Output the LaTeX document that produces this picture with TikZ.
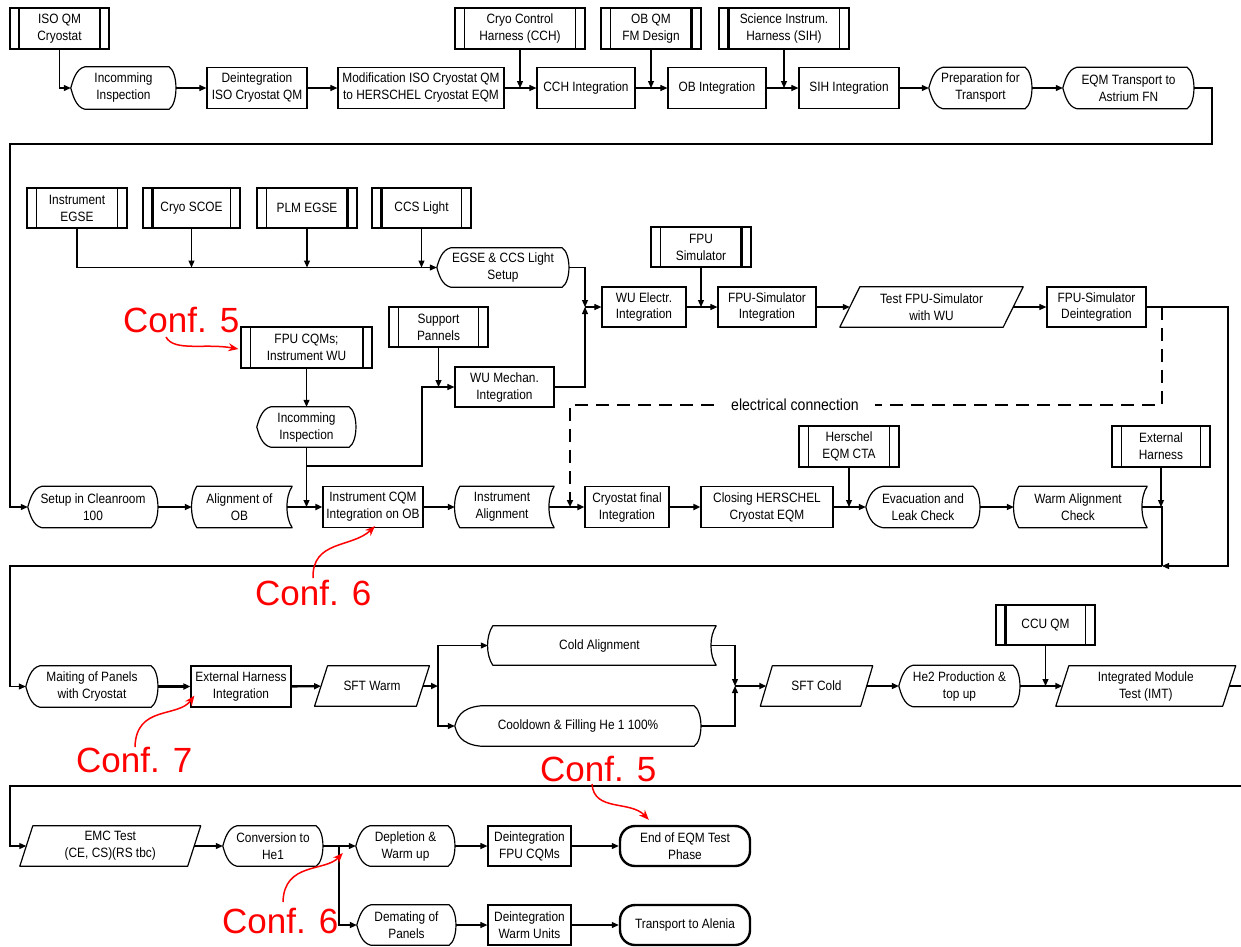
\documentclass[tikz,border=0pt]{standalone}
\usepackage{fontspec}
\setmainfont{Liberation Sans}
\newfontfamily\bxfont{Liberation Sans}[FakeStretch=0.88]
\usetikzlibrary{arrows.meta,calc}

\newcommand\dispshape[2][14]{%
  \draw[shapeline] ($(#2.north west)+(#1,0)$) -- ($(#2.north east)+(-7,0)$)
    .. controls ($(#2.north east)+(2,6)$) and ($(#2.south east)+(2,-6)$) .. ($(#2.south east)+(-7,0)$)
    -- ($(#2.south west)+(#1,0)$)
    .. controls ($(#2.south west)+(5,-2)$) and ($(#2.west)+(2,7)$) .. (#2.west)
    .. controls ($(#2.west)+(2,-7)$) and ($(#2.north west)+(5,2)$) .. cycle;}
\newcommand\storedshape[1]{%
  \draw[shapeline] ($(#1.north west)+(5,0)$) -- ($(#1.north east)+(5,0)$)
    .. controls ($(#1.north east)+(-2,10)$) and ($(#1.south east)+(-2,-10)$) .. ($(#1.south east)+(5,0)$)
    -- ($(#1.south west)+(5,0)$)
    .. controls ($(#1.south west)+(-2,-10)$) and ($(#1.north west)+(-2,10)$) .. cycle;}
\newcommand\parashape[2]{%
  \draw[shapeline] ($(#1.north west)+(#2,0)$) -- ($(#1.north east)+(#2,0)$)
    -- ($(#1.south east)+(-#2,0)$) -- ($(#1.south west)+(-#2,0)$) -- cycle;}
\newcommand\extbars[3]{%
  \draw[line width=#2] ($(#1.north west)+(10,0)$) -- ($(#1.south west)+(10,0)$);
  \draw[line width=#3] ($(#1.north east)+(-10,0)$) -- ($(#1.south east)+(-10,0)$);}

\tikzset{
  every node/.style={inner sep=0pt, align=center, font=\bxfont\fontsize{13.5}{17}\selectfont},
  wh/.style 2 args={minimum width=#1, minimum height=#2},
  proc/.style={draw, line width=1.2pt, rectangle},
  ext/.style={draw, line width=1.2pt, rectangle},
  term/.style={draw, line width=2.4pt, rectangle, rounded corners=15pt},
  shapeline/.style={line width=1.2pt, line join=round},
  conn/.style={line width=1.1pt},
  thk/.style={line width=2.4pt},
  arr/.style={-{Triangle[length=7pt,width=6pt]}},
  dashline/.style={line width=2.5pt, dash pattern=on 13pt off 8pt},
  redtxt/.style={text=red, font=\normalfont\fontsize{35}{40}\selectfont},
  redarr/.style={draw=red, line width=1.5pt, -{Stealth[length=10pt,width=8pt]}},
}

\begin{document}
\begin{tikzpicture}[x=1pt,y=-1pt]
\fill[white] (0,0) rectangle (1241,946);
\useasboundingbox (0,0) rectangle (1241,946);

% ---------- Row 1
\node[ext, line width=2.5pt, wh={99}{41}] (isoqm) at (59.5,28.5) {ISO QM\\Cryostat};
\extbars{isoqm}{2.2pt}{2.2pt}
\node[wh={105}{42}] (inc1) at (123.5,88) {Incomming\\Inspection}; \dispshape{inc1}
\node[proc, wh={100}{41}] (deint1) at (257,88) {Deintegration\\ISO Cryostat QM};
\node[proc, wh={166}{41}] (modif) at (421,88) {Modification ISO Cryostat QM\\to HERSCHEL Cryostat EQM};
\node[ext, wh={130}{41}] (cch) at (520,28.5) {Cryo Control\\Harness (CCH)}; \extbars{cch}{1.2pt}{1.2pt}
\node[proc, wh={98}{41}] (cchint) at (586,88) {CCH Integration};
\node[ext, wh={100}{41}] (obqm) at (651,28.5) {OB QM\\FM Design}; \extbars{obqm}{1.2pt}{2.4pt}
\node[proc, wh={98}{41}] (obint) at (717,88) {OB Integration};
\node[ext, wh={130}{41}] (sih) at (784,28.5) {Science Instrum.\\Harness (SIH)}; \extbars{sih}{2.4pt}{1.2pt}
\node[proc, wh={100}{41}] (sihint) at (849,88) {SIH Integration};
\node[wh={103}{41}] (prep) at (980.5,88) {Preparation for\\Transport}; \dispshape{prep}
\node[wh={131}{41}] (eqmtr) at (1128.5,88) {EQM Transport to\\Astrium FN}; \dispshape{eqmtr}

% ---------- Row 2
\node[ext, wh={100}{40}] (instegse) at (77,208) {Instrument\\EGSE}; \extbars{instegse}{1.2pt}{1.2pt}
\node[ext, wh={97}{40}] (cryoscoe) at (191.5,208) {Cryo SCOE}; \extbars{cryoscoe}{2.4pt}{1.2pt}
\node[ext, wh={100}{40}] (plmegse) at (307,208) {PLM EGSE}; \extbars{plmegse}{1.2pt}{2.4pt}
\node[ext, wh={99}{40}] (ccslight) at (421.5,208) {CCS Light}; \extbars{ccslight}{2.4pt}{1.2pt}
\node[wh={132}{39}] (egse) at (503,267.5) {EGSE \& CCS Light\\Setup}; \dispshape{egse}
\node[ext, wh={100}{40}] (fpusim) at (701,247) {FPU\\Simulator}; \extbars{fpusim}{1.2pt}{2.4pt}
\node[proc, wh={84}{40}] (wuelec) at (644,307) {WU Electr.\\Integration};
\node[proc, wh={98}{40}] (fpusimint) at (767,307) {FPU-Simulator\\Integration};
\node[wh={163}{40}] (testfpu) at (931.5,307) {Test FPU-Simulator\\with WU}; \parashape{testfpu}{10}
\node[proc, wh={99}{40}] (fpudeint) at (1096.5,307) {FPU-Simulator\\Deintegration};
\node[ext, wh={99}{40}] (support) at (438.5,327) {Support\\Pannels}; \extbars{support}{1.2pt}{1.2pt}
\node[ext, wh={131}{41}] (fpucqm) at (306.5,347.5) {FPU CQMs;\\Instrument WU}; \extbars{fpucqm}{1.2pt}{2.2pt}
\node[proc, wh={99}{40}] (wumech) at (504.5,387) {WU Mechan.\\Integration};
\node[wh={99}{40}] (inc2) at (306.5,427) {Incomming\\Inspection}; \dispshape{inc2}

% ---------- Row 3
\node[wh={130}{41}] (setup) at (93,507) {Setup in Cleanroom\\100}; \dispshape{setup}
\node[wh={95}{41}] (alignob) at (239.5,507) {Alignment of\\OB}; \storedshape{alignob}
\node[proc, wh={100}{41}] (instcqm) at (373,507) {Instrument CQM\\Integration on OB};
\node[wh={94}{41}] (instalign) at (502,507) {Instrument\\Alignment}; \storedshape{instalign}
\node[proc, wh={84}{41}] (cryofinal) at (627,507) {Cryostat final\\Integration};
\node[proc, wh={132}{41}] (closing) at (767,507) {Closing HERSCHEL\\Cryostat EQM};
\node[ext, wh={100}{41}] (hcta) at (849,446.5) {Herschel\\EQM CTA}; \extbars{hcta}{1.2pt}{1.2pt}
\node[wh={114}{41}] (evac) at (923,507) {Evacuation and\\Leak Check}; \dispshape[17]{evac}
\node[wh={128}{41}] (warm) at (1078,507) {Warm Alignment\\Check}; \storedshape{warm}
\node[ext, wh={98}{41}] (extharn) at (1161,446.5) {External\\Harness}; \extbars{extharn}{1.2pt}{1.2pt}

% ---------- Row 4
\node[wh={132}{41}] (mating) at (92,686.5) {Maiting of Panels\\with Cryostat}; \dispshape{mating}
\node[proc, wh={100}{41}] (extharnint) at (241,686.5) {External Harness\\Integration};
\node[wh={101.5}{40}] (sftwarm) at (372,686) {SFT Warm}; \parashape{sftwarm}{6.5}
\node[wh={223}{39}] (coldalign) at (599.5,645.5) {Cold Alignment}; \storedshape{coldalign}
\node[wh={246}{40}] (cooldown) at (578,726) {Cooldown \& Filling He 1 100\%}; \dispshape[26]{cooldown}
\node[wh={100}{40}] (sftcold) at (816.5,686) {SFT Cold}; \parashape{sftcold}{6}
\node[wh={121}{41}] (he2) at (959.5,686) {He2 Production \&\\top up}; \dispshape{he2}
\node[ext, wh={99}{40}] (ccuqm) at (1045.5,625) {CCU QM}; \extbars{ccuqm}{2.2pt}{1.2pt}
\node[wh={166.5}{40}] (imt) at (1145.75,686) {Integrated Module\\Test (IMT)}; \parashape{imt}{6.5}

% ---------- Row 5
\node[wh={167.5}{40}] (emc) at (110.25,846) {EMC Test\\(CE, CS)(RS tbc)}; \parashape{emc}{6.5}
\node[wh={100}{40}] (conv) at (273,846) {Conversion to\\He1}; \dispshape{conv}
\node[wh={99}{40}] (deplet) at (405.5,846) {Depletion \&\\Warm up}; \dispshape{deplet}
\node[proc, wh={83}{40}] (deintfpu) at (529.5,846) {Deintegration\\FPU CQMs};
\node[term, wh={130}{40}] (endeqm) at (685,846) {End of EQM Test\\Phase};
\node[wh={99}{40}] (demat) at (406.5,925) {Demating of\\Panels}; \dispshape{demat}
\node[proc, wh={83}{40}] (deintwarm) at (529.5,925) {Deintegration\\Warm Units};
\node[term, wh={130}{40}] (transp) at (685,925) {Transport to Alenia};

% ---------- Connectors row 1
\draw[conn,arr] (isoqm.south) |- (inc1.west);
\draw[conn,arr] (inc1) -- (deint1);
\draw[conn,arr] (deint1) -- (modif);
\draw[conn,arr] (modif) -- (cchint);
\draw[conn,arr] (cch.south) -- (cch.south |- cchint.west);
\draw[conn,arr] (cchint) -- (obint);
\draw[conn,arr] (obqm.south) -- (obqm.south |- obint.west);
\draw[conn,arr] (obint) -- (sihint);
\draw[conn,arr] (sih.south) -- (sih.south |- sihint.west);
\draw[conn,arr] (sihint) -- (prep);
\draw[conn,arr] (prep) -- (eqmtr);
\coordinate (r1a) at (1212,144);
\coordinate (r1b) at (10,144);
\draw[conn,arr] (eqmtr.east) -| (r1a) -- (r1b) |- (setup.west);

% ---------- Connectors row 2
\draw[conn,arr] (instegse.south) |- (egse.west);
\draw[conn,arr] (cryoscoe.south) -- (cryoscoe.south |- egse.west);
\draw[conn,arr] (plmegse.south) -- (plmegse.south |- egse.west);
\draw[conn,arr] (ccslight.south) -- (ccslight.south |- egse.west);
\coordinate (j2) at (585,307);
\draw[conn,arr] (egse.east) -| (j2);
\draw[conn,arr] (wumech.east) -| (j2);
\draw[conn,arr] (j2) -- (wuelec.west);
\draw[conn,arr] (fpusim.south) -- (fpusim.south |- fpusimint.west);
\draw[conn,arr] (wuelec) -- (fpusimint);
\draw[conn,arr] (fpusimint) -- (testfpu);
\draw[conn,arr] (testfpu) -- (fpudeint);
\draw[conn,arr] (support.south) -- (support.south |- wumech.west);
\draw[conn,arr] (fpucqm) -- (inc2);
\draw[conn,arr] (inc2.south) -- (inc2.south |- instcqm.west);
\coordinate (b1) at (306.5,466);
\coordinate (b2) at (422,387);
\draw[conn,arr] (b1) -| (b2) -- (wumech.west);
\coordinate (e1) at (1162,307);
\coordinate (e2) at (1162,405);
\coordinate (e3) at (570,405);
\coordinate (e4) at (570,507);
\draw[dashline,arr] (e1) -- (e2) -- node[pos=0.62, fill=white, inner xsep=16pt, inner ysep=2pt, font=\bxfont\fontsize{16}{18}\selectfont] {electrical connection} (e3) -- (e4);
\coordinate (r2) at (1228,566);
\coordinate (j4) at (1162,566);
\draw[conn,arr] (fpudeint.east) -| (r2) -- (j4);

% ---------- Connectors row 3
\draw[thk,arr] (setup) -- (alignob);
\draw[thk,arr] (alignob) -- (instcqm);
\draw[thk,arr] (instcqm) -- (instalign);
\draw[thk,arr] (instalign) -- (cryofinal);
\draw[thk,arr] (cryofinal) -- (closing);
\draw[thk,arr] (closing) -- (evac);
\draw[conn,arr] (hcta.south) -- (hcta.south |- evac.west);
\draw[thk,arr] (evac) -- (warm);
\coordinate (j3) at (1162,507);
\draw[thk] (warm.east) -- (j3) -- (j4);
\draw[conn,arr] (extharn.south) -- (extharn.south |- warm.east);
\coordinate (c3) at (10,566);
\draw[conn,arr] (j4) -- (c3) |- (mating.west);

% ---------- Connectors row 4
\draw[thk,arr] (mating) -- (extharnint);
\draw[thk,arr] (extharnint) -- (sftwarm);
\coordinate (k1) at (438,686);
\draw[thk,arr] (sftwarm) -- (k1);
\draw[conn,arr] (k1) |- (coldalign.west);
\draw[conn,arr] (k1) |- (cooldown.west);
\coordinate (k2) at (735,686);
\draw[conn,arr] (coldalign.east) -| (k2);
\draw[conn,arr] (cooldown.east) -| (k2);
\draw[thk,arr] (k2) -- (sftcold);
\draw[thk,arr] (sftcold) -- (he2);
\draw[thk,arr] (he2) -- (imt);
\draw[conn,arr] (ccuqm.south) -- (ccuqm.south |- imt.west);
\coordinate (o4) at (1241,686);
\draw[thk] (imt) -- (o4);

% ---------- Connectors row 5
\coordinate (i5) at (1241,786);
\coordinate (c5) at (10,786);
\draw[conn,arr] (i5) -- (c5) |- (emc.west);
\draw[conn,arr] (emc) -- (conv);
\coordinate (k5) at (339,846);
\draw[conn] (conv) -- (k5);
\draw[conn,arr] (k5) -- (deplet);
\draw[thk,arr] (k5) |- (demat.west);
\draw[conn,arr] (deplet) -- (deintfpu);
\draw[conn,arr] (deintfpu) -- (endeqm);
\draw[conn,arr] (demat) -- (deintwarm);
\draw[conn,arr] (deintwarm) -- (transp);

% ---------- Red annotations
\node[redtxt, anchor=base west] (cf5a) at (123,332) {Conf. 5};
\node[redtxt, anchor=base west] (cf6a) at (255,605) {Conf. 6};
\node[redtxt, anchor=base west] (cf7) at (76,772) {Conf. 7};
\node[redtxt, anchor=base west] (cf5b) at (540,781) {Conf. 5};
\node[redtxt, anchor=base west] (cf6b) at (222,933) {Conf. 6};
\coordinate (s5a) at (166,337);
\coordinate (s6a) at (313,578);
\coordinate (s7) at (135,747);
\coordinate (s5b) at (592,784);
\coordinate (s6b) at (283,902);
\draw[redarr] (s5a) .. controls (174,352) and (205,343) .. ($(fpucqm.west)+(-2,1.5)$);
\draw[redarr] (s6a) .. controls (312,540) and (352,548) .. ($(instcqm.south)+(2,-2)$);
\draw[redarr] (s7) .. controls (136,705) and (178,718) .. ($(extharnint.south west)+(4,-12)$);
\draw[redarr] (s5b) .. controls (594,812) and (630,800) .. ($(endeqm.north west)+(30,-5)$);
\draw[redarr] (s6b) .. controls (284,862) and (325,872) .. ($(deplet.west)+(-13,7)$);
\end{tikzpicture}
\end{document}
